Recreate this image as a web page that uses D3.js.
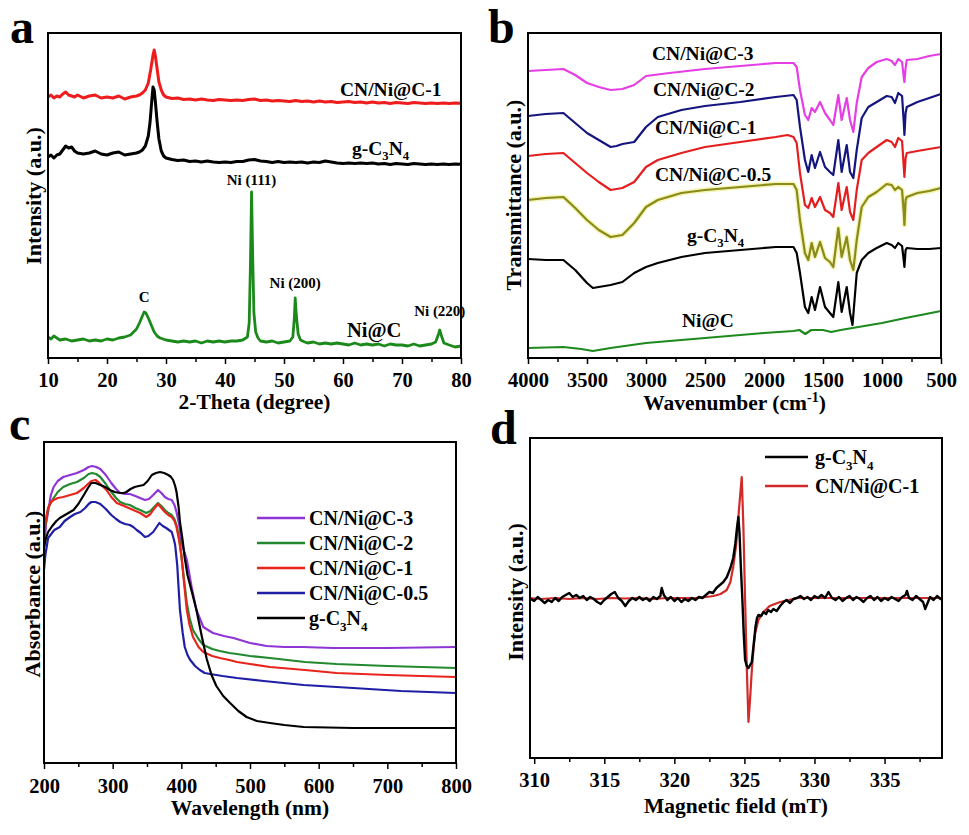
<!DOCTYPE html>
<html>
<head>
<meta charset="utf-8">
<script src="https://cdn.jsdelivr.net/npm/d3@7"></script>
<style>
    body { margin: 0; background: #fff; }
    svg text { font-family: "Liberation Serif", "Times New Roman", serif; font-weight: bold; fill: #000; }
</style>
</head>
<body>
<svg id="fig" width="969" height="835"></svg>
<script>
// ---------- panel a : XRD (2-theta, intensity a.u.) ----------
var xrdCN1 = [[10,261],[10.5,263],[11,260],[11.5,262],[12,261],[12.5,264],[13,266],[13.5,263],[14,262],[14.5,261],[15,263],[16,260],[17,262],[18,263],[19,260],[20,261],[21,260],[22,262],[23,259],[24,261],[25,262],[25.5,263],[26,265],[26.5,268],[27,275],[27.4,288],[27.8,303],[28,308],[28.2,302],[28.5,289],[28.8,276],[29.2,268],[29.6,263],[30,261],[31,259.5],[32,260],[33,258.5],[34,259],[35,258],[36,259],[37,258],[38,257.5],[39,258.5],[40,258],[41,257.5],[42,258],[43,257.5],[44,258.5],[45,259],[46,257.5],[47,258],[48,257],[49,257.5],[50,257],[51,256.5],[52,257.5],[53,256.5],[54,257],[55,256],[56,257],[57,256],[58,256.5],[59,255.5],[60,256],[61,256.5],[62,255.5],[63,256],[64,255],[65,256],[66,255],[67,255.5],[68,254.5],[69,255.5],[70,255],[71,254.5],[72,255.5],[73,255],[74,254.5],[75,255],[76,254.5],[77,255],[78,254.5],[79,255],[80,254.7]];
var xrdGCN = [[10,201],[10.5,203],[11,200],[11.5,203],[12,204],[12.5,208],[13,212],[13.5,210],[14,211],[14.5,207],[15,205],[16,204],[17,205],[18,207],[19,204],[20,203],[21,205],[22,206],[23,203],[24,204],[25,205],[25.5,206],[26,208],[26.5,212],[27,222],[27.3,236],[27.6,258],[27.8,271],[28,268],[28.2,256],[28.5,236],[28.8,219],[29.2,207],[29.6,202],[30,200],[31,198.5],[32,197.5],[33,198],[34,196.5],[35,197],[36,196],[37,197],[38,196],[39,195.5],[40,196],[41,195.5],[42,196.5],[43,196.5],[44,198],[45,198.5],[46,197],[47,196.5],[48,195.5],[49,196.5],[50,195.5],[51,196],[52,195.5],[53,196],[54,195],[55,196],[56,195.5],[57,197],[58,196],[59,195],[60,194.5],[61,195],[62,194.5],[63,195],[64,194.5],[65,195],[66,194],[67,194.5],[68,193.5],[69,194.5],[70,194],[71,193.5],[72,194.5],[73,194],[74,193.5],[75,194],[76,193.5],[77,194],[78,193.5],[79,194],[80,193.7]];
var xrdNiC = [[10,21],[10.5,19],[11,22],[11.5,20],[12,18],[13,19],[14,17],[15,18],[16,19],[17,17],[18,18],[19,17],[20,19],[21,18],[22,20],[23,21],[24,23],[24.5,26],[25,29],[25.5,35],[26,42],[26.3,46],[26.6,45],[27,40],[27.5,33],[28,26],[28.5,22],[29,20],[30,18],[31,17],[32,16],[33,17],[34,16],[35,17],[36,15],[37,17],[38,16],[39,17],[40,16],[41,17],[42,17],[43,18],[43.8,21],[44.1,35],[44.3,90],[44.5,166],[44.7,100],[44.9,45],[45.2,26],[45.6,20],[46,17],[47,16],[48,17],[49,15],[50,16],[51,17],[51.5,21],[51.75,40],[51.9,60],[52.1,42],[52.4,24],[52.8,18],[53.5,16],[54,15],[55,16],[56,14],[57,15],[58,14],[59,15],[60,14],[61,13],[62,15],[63,13],[64,14],[65,13],[66,14],[67,12],[68,14],[69,13],[70,13],[71,12],[72,14],[73,12],[74,13],[75,14],[75.7,16],[76.2,24],[76.4,28],[76.7,22],[77.1,15],[78,13],[79,11],[80,12]];
var ticksA = [10, 20, 30, 40, 50, 60, 70, 80];
var minorA = [15, 25, 35, 45, 55, 65, 75];

// ---------- panel b : FTIR (wavenumber, transmittance a.u.) ----------
var irCN3 = [[4000,287],[3850,288],[3700,289],[3600,283],[3500,275],[3400,271],[3300,268],[3200,269],[3100,273],[3000,282],[2800,285],[2500,289],[2200,292],[1900,295],[1750,295],[1723,291],[1695,268],[1653,243],[1625,238],[1596,250],[1568,246],[1525,256],[1483,245],[1441,238],[1413,233],[1370,263],[1342,238],[1299,260],[1271,238],[1243,226],[1214,255],[1172,281],[1116,290],[1045,296],[960,299],[918,297],[890,293],[862,299],[830,296],[815,280],[810,276],[800,290],[790,298],[700,299],[600,302],[500,304]];
var irCN2 = [[4000,242],[3850,244],[3700,245],[3600,235],[3500,225],[3400,218],[3300,211],[3250,212],[3200,214],[3100,216],[3000,231],[2900,241],[2700,248],[2500,252],[2200,256],[1900,261],[1750,263],[1723,258],[1695,231],[1653,198],[1625,186],[1596,203],[1568,190],[1525,206],[1483,191],[1441,186],[1413,183],[1370,218],[1342,186],[1299,213],[1271,186],[1243,180],[1214,208],[1172,240],[1116,251],[1045,256],[960,262],[918,261],[890,255],[862,265],[830,262],[815,235],[810,223],[800,245],[790,251],[700,256],[600,260],[500,264]];
var irCN1 = [[4000,202],[3850,204],[3700,205],[3600,195],[3500,185],[3400,176],[3300,168],[3200,170],[3100,176],[3000,191],[2900,198],[2700,205],[2500,211],[2200,216],[1900,221],[1800,223],[1750,221],[1723,215],[1695,185],[1653,153],[1625,150],[1596,160],[1568,151],[1525,161],[1483,148],[1441,145],[1413,141],[1370,175],[1342,148],[1299,171],[1271,146],[1243,138],[1214,168],[1172,198],[1116,205],[1045,211],[960,218],[918,216],[890,211],[862,220],[830,217],[815,190],[810,181],[800,200],[790,205],[700,207],[600,209],[500,211]];
var irCN05 = [[4000,158],[3850,160],[3700,161],[3600,150],[3500,138],[3400,128],[3300,121],[3200,123],[3100,135],[3000,151],[2900,158],[2700,165],[2500,168],[2200,171],[1900,174],[1750,174],[1723,168],[1695,138],[1653,105],[1625,98],[1596,115],[1568,101],[1525,116],[1483,100],[1441,96],[1413,91],[1370,130],[1342,101],[1299,121],[1271,98],[1243,88],[1214,118],[1172,151],[1116,161],[1045,166],[960,174],[918,173],[890,168],[862,171],[830,168],[815,145],[810,133],[800,158],[790,161],[700,165],[600,167],[500,170]];
var irGCN = [[4000,99],[3850,98],[3700,98],[3600,88],[3500,75],[3450,70],[3400,71],[3300,73],[3200,76],[3100,85],[3000,91],[2900,95],[2700,101],[2500,105],[2200,108],[1900,111],[1750,111],[1723,105],[1695,85],[1653,51],[1625,45],[1596,61],[1568,48],[1525,71],[1483,51],[1441,45],[1413,41],[1370,76],[1342,46],[1299,71],[1271,45],[1250,33],[1214,85],[1172,98],[1116,105],[1045,110],[960,115],[918,113],[890,110],[862,115],[830,112],[815,97],[810,91],[800,108],[790,110],[700,109],[600,109],[500,110]];
var irNiC = [[4000,10],[3700,11],[3550,9],[3450,7],[3300,10],[3000,15],[2500,20],[2000,25],[1750,27],[1700,28],[1650,24],[1600,28],[1500,28],[1430,26],[1350,28],[1200,31],[1000,35],[800,40],[500,47]];
var ticksB = [4000, 3500, 3000, 2500, 2000, 1500, 1000, 500];
var minorB = [3750, 3250, 2750, 2250, 1750, 1250, 750];

// ---------- panel c : UV-vis (wavelength, absorbance a.u.) ----------
var uvCN3 = [[200,211],[203,240],[206,251],[210,268],[214,276],[220,282],[228,286],[238,288],[248,290],[258,293],[265,296],[270,297],[276,296],[282,294],[290,288],[298,280],[305,274],[311,270],[318,269],[325,269],[333,267],[340,265],[347,263],[353,264],[359,268],[366,273],[371,270],[376,266],[381,264],[386,263],[390,258],[393,251],[397,238],[400,221],[408,203],[415,176],[422,153],[432,136],[446,130],[462,127],[476,125],[500,120],[524,117],[550,116],[577,116],[621,115],[700,115],[800,116]];
var uvCN2 = [[200,232],[203,241],[206,255],[214,265],[220,271],[228,276],[238,279],[248,281],[258,285],[265,289],[270,290],[276,289],[282,286],[290,279],[298,271],[305,265],[311,261],[318,259],[325,258],[333,255],[340,253],[349,250],[355,252],[359,255],[366,260],[371,257],[376,253],[381,250],[386,248],[390,244],[393,238],[397,224],[400,208],[404,183],[408,160],[412,145],[417,133],[425,124],[432,118],[445,114],[456,112],[470,110],[481,109],[500,107],[529,105],[580,101],[626,99],[700,97],[800,95]];
var uvCN1 = [[200,226],[203,245],[206,255],[210,261],[214,263],[220,265],[228,266],[238,268],[248,270],[258,275],[264,279],[269,282],[275,283],[279,281],[285,277],[291,273],[298,266],[306,260],[313,258],[320,256],[330,253],[340,250],[349,246],[355,249],[359,253],[366,259],[371,255],[376,251],[381,248],[386,246],[390,242],[393,236],[397,222],[400,208],[404,180],[408,153],[412,138],[417,126],[425,116],[432,111],[445,107],[456,105],[470,103],[481,101],[500,99],[529,96],[580,93],[626,90],[700,88],[800,86]];
var uvCN05 = [[200,193],[202,208],[206,225],[215,233],[223,236],[230,242],[238,246],[245,249],[253,251],[260,255],[265,259],[269,261],[275,261],[282,259],[290,254],[298,248],[305,244],[311,241],[318,239],[325,238],[330,236],[335,233],[341,230],[347,226],[352,227],[359,231],[364,236],[368,240],[373,237],[378,235],[382,233],[386,231],[389,224],[391,218],[394,198],[398,153],[402,130],[405,116],[409,108],[413,103],[420,97],[427,93],[434,90],[442,89],[460,87],[481,85],[520,82],[578,78],[650,75],[720,72],[800,70]];
var uvGCN = [[200,216],[203,225],[206,231],[212,237],[218,242],[223,245],[233,249],[243,253],[250,259],[258,268],[264,275],[269,280],[275,280],[282,278],[289,276],[296,273],[303,271],[311,270],[316,270],[320,271],[326,274],[332,276],[338,277],[345,278],[351,282],[357,288],[363,290],[369,291],[375,290],[381,288],[385,286],[388,283],[391,277],[393,271],[396,256],[398,241],[402,222],[405,205],[409,188],[415,172],[422,153],[430,126],[437,104],[444,88],[451,77],[461,67],[471,60],[483,52],[495,46],[510,42],[529,40],[550,38],[578,36],[650,35],[800,35]];
var ticksC = [200, 300, 400, 500, 600, 700, 800];
var minorC = [250, 350, 450, 550, 650, 750];
var namesC = ['CN/Ni@C-3', 'CN/Ni@C-2', 'CN/Ni@C-1', 'CN/Ni@C-0.5', 'g-C3N4'];

// ---------- panel d : EPR (magnetic field mT, intensity a.u.) ----------
var eprCN1 = [[309.7,160],[310.5,159],[311.5,160],[312.5,159],[313.5,160],[314.5,159],[315.5,160],[316.5,159.5],[317.5,160],[318.5,159],[319.5,160],[320.5,160],[321.5,160],[322.3,161],[322.8,162],[323.3,164],[323.74,168],[324,176],[324.2,191],[324.4,212],[324.5,228],[324.65,255],[324.81,281],[324.93,230],[325.05,158],[325.17,90],[325.29,36],[325.41,60],[325.53,88],[325.65,110],[325.77,125],[326,138],[326.36,146],[326.8,152],[327.55,156],[328.2,158],[328.74,160],[330,160],[332,160],[334,160],[336,160],[338,160],[339.1,160]];
var eprGCN = [[309.75,159],[310,157],[310.25,161],[310.5,158],[310.75,155],[311,158],[311.25,156],[311.5,160],[311.75,157],[312,161],[312.25,163],[312.5,165],[312.75,161],[313,163],[313.25,160],[313.5,162],[313.75,158],[314,161],[314.25,159],[314.5,156],[314.75,154],[315,158],[315.25,161],[315.5,164],[315.75,166],[316,160],[316.25,157],[316.5,152],[316.75,157],[317,160],[317.25,158],[317.5,161],[317.75,158],[318,160],[318.25,157],[318.5,161],[318.75,159],[319,162],[319.1,170],[319.25,163],[319.5,158],[319.75,161],[320,157],[320.25,160],[320.5,156],[320.75,159],[321,157],[321.25,160],[321.5,158],[321.75,161],[322,160],[322.25,163],[322.5,166],[322.75,165],[323,170],[323.25,173],[323.5,176],[323.75,181],[324,190],[324.2,200],[324.35,214],[324.47,230],[324.57,241],[324.65,225],[324.75,190],[324.85,160],[324.95,125],[325.05,98],[325.17,92],[325.29,90],[325.41,93],[325.53,96],[325.65,112],[325.8,132],[325.9,140],[326,143],[326.2,142],[326.36,146],[326.55,144],[326.7,148],[326.9,146],[327.07,149],[327.3,147],[327.55,152],[327.8,156],[328,158],[328.25,155],[328.5,159],[328.75,160],[329,162],[329.25,159],[329.5,161],[329.75,158],[330,162],[330.25,160],[330.5,163],[330.75,160],[331,166],[331.25,160],[331.5,158],[331.75,161],[332,157],[332.25,160],[332.5,162],[332.75,158],[333,161],[333.25,159],[333.5,156],[333.75,160],[334,162],[334.25,158],[334.5,161],[334.75,157],[335,160],[335.25,158],[335.5,161],[335.75,159],[336,157],[336.25,161],[336.5,163],[336.6,167],[336.75,160],[337,158],[337.25,162],[337.5,159],[337.75,156],[337.9,149],[338.1,156],[338.25,161],[338.5,158],[338.75,162],[339,159],[339.1,160]];
var ticksD = [310, 315, 320, 325, 330, 335];
var minorD = [312.5, 317.5, 322.5, 327.5, 332.5, 337.5];
var namesD = ['g-C3N4', 'CN/Ni@C-1'];

var svg = d3.select('#fig');

// writes a label, turning C3N4 into real subscripts
function label(sel, str, size) {
    if (str.indexOf('C3N4') < 0) { sel.text(str); return sel; }
    str.replace('C3N4', 'C|3|N|4').split('|').forEach(function (p, i) {
        var isSub = (p === '3' || p === '4');
        var t = sel.append('tspan').text(p);
        if (isSub) t.attr('font-size', size * 0.65).attr('dy', size * 0.28);
        else if (i > 0) t.attr('dy', -size * 0.28);
    });
    return sel;
}

function panel(opt) {
    var g = svg.append('g');
    var x = d3.scaleLinear().domain(opt.xDomain).range([opt.left, opt.right]);
    var y = d3.scaleLinear().domain(opt.yDomain).range([opt.bottom, opt.top]);
    var line = d3.line()
        .x(function (d) { return x(d[0]); })
        .y(function (d) { return y(d[1]); });

    opt.series.forEach(function (s) {
        if (s.halo) {
            g.append('path').datum(s.data)
                .attr('fill', 'none').attr('stroke', s.halo).attr('stroke-width', 5)
                .attr('stroke-linejoin', 'round').attr('d', line);
        }
        g.append('path').datum(s.data)
            .attr('fill', 'none')
            .attr('stroke', s.color)
            .attr('stroke-width', s.width || 2.2)
            .attr('stroke-linejoin', 'round')
            .attr('d', line);
    });

    // frame
    g.append('rect')
        .attr('x', opt.left).attr('y', opt.top)
        .attr('width', opt.right - opt.left).attr('height', opt.bottom - opt.top)
        .attr('fill', 'none').attr('stroke', '#000').attr('stroke-width', 2);

    // minor ticks
    var mi = g.append('g').attr('transform', 'translate(0,' + opt.bottom + ')')
        .call(d3.axisBottom(x).tickValues(opt.minor).tickSize(4).tickFormat(''));
    mi.select('.domain').remove();
    mi.selectAll('line').attr('stroke-width', 1.5);

    // major ticks + labels
    var ax = g.append('g').attr('transform', 'translate(0,' + opt.bottom + ')')
        .call(d3.axisBottom(x).tickValues(opt.ticks).tickSize(6).tickPadding(opt.pad).tickFormat(d3.format('d')));
    ax.select('.domain').remove();
    ax.selectAll('line').attr('stroke-width', 1.5);
    ax.selectAll('text').attr('font-size', 20.5);

    // axis titles
    var xt = g.append('text')
        .attr('x', (opt.left + opt.right) / 2).attr('y', opt.xTitleY)
        .attr('text-anchor', 'middle').attr('font-size', 21.5);
    xt.text(opt.xTitle);
    if (opt.xTitleSup) {
        xt.append('tspan').attr('font-size', 14).attr('dy', -8).text(opt.xTitleSup);
        xt.append('tspan').attr('dy', 8).text(')');
    }
    g.append('text')
        .attr('transform', 'translate(' + opt.yTitleX + ',' + opt.yTitleY + ') rotate(-90)')
        .attr('text-anchor', 'middle').attr('dy', '0.35em')
        .attr('font-size', 22).text(opt.yTitle);

    // panel letter
    g.append('text').attr('x', opt.letterX).attr('y', opt.letterY)
        .attr('font-size', 48).text(opt.letter);

    return { g: g, x: x, y: y };
}

// ---------- a ----------
var pa = panel({
    left: 48, right: 461, top: 33, bottom: 358,
    xDomain: [10, 80], yDomain: [0, 325],
    ticks: ticksA, minor: minorA, pad: 8,
    xTitle: '2-Theta (degree)', xTitleY: 409,
    yTitle: 'Intensity (a.u.)', yTitleX: 33, yTitleY: 196,
    letter: 'a', letterX: 10, letterY: 43,
    series: [
        { data: xrdNiC, color: '#1b8a1b', width: 2.8 },
        { data: xrdGCN, color: '#000000', width: 3 },
        { data: xrdCN1, color: '#ee1c1c', width: 3 }
    ]
});
label(pa.g.append('text').attr('x', 340).attr('y', 96).attr('font-size', 19.5), 'CN/Ni@C-1', 19.5);
label(pa.g.append('text').attr('x', 352).attr('y', 155).attr('font-size', 19.5), 'g-C3N4', 19.5);
pa.g.append('text').attr('x', 347).attr('y', 337).attr('font-size', 20.5).text('Ni@C');
[['C', 26.3, 302], ['Ni (111)', 44.5, 185], ['Ni (200)', 51.9, 288], ['Ni (220)', 76.4, 316]].forEach(function (p) {
    pa.g.append('text').attr('x', pa.x(p[1])).attr('y', p[2])
        .attr('text-anchor', 'middle').attr('font-size', 15).text(p[0]);
});

// ---------- b ----------
var pb = panel({
    left: 528, right: 941, top: 33, bottom: 358,
    xDomain: [4000, 500], yDomain: [0, 325],
    ticks: ticksB, minor: minorB, pad: 8,
    xTitle: 'Wavenumber (cm', xTitleSup: '-1', xTitleY: 410,
    yTitle: 'Transmittance (a.u.)', yTitleX: 513, yTitleY: 195,
    letter: 'b', letterX: 488, letterY: 43,
    series: [
        { data: irNiC, color: '#1e8a1e' },
        { data: irGCN, color: '#000000' },
        { data: irCN05, color: '#8a8a1a', halo: 'rgba(240,240,150,0.7)' },
        { data: irCN1, color: '#e41e1e' },
        { data: irCN2, color: '#151580' },
        { data: irCN3, color: '#e53ee5' }
    ]
});
[['CN/Ni@C-3', 652, 60], ['CN/Ni@C-2', 653, 96], ['CN/Ni@C-1', 655, 134], ['CN/Ni@C-0.5', 655, 181], ['g-C3N4', 687, 242], ['Ni@C', 682, 327]].forEach(function (p) {
    label(pb.g.append('text').attr('x', p[1]).attr('y', p[2]).attr('font-size', 19.5), p[0], 19.5);
});

// ---------- c ----------
var colorsC = ['#8f35d6', '#23892e', '#e8241c', '#1f1fa6', '#000000'];
var pc = panel({
    left: 44, right: 456, top: 442, bottom: 763,
    xDomain: [200, 800], yDomain: [0, 321],
    ticks: ticksC, minor: minorC, pad: 9,
    xTitle: 'Wavelength (nm)', xTitleY: 815,
    yTitle: 'Absorbance (a.u.)', yTitleX: 32, yTitleY: 594,
    letter: 'c', letterX: 9, letterY: 440,
    series: [
        { data: uvCN3, color: colorsC[0] },
        { data: uvCN2, color: colorsC[1] },
        { data: uvCN1, color: colorsC[2] },
        { data: uvCN05, color: colorsC[3] },
        { data: uvGCN, color: colorsC[4] }
    ]
});
namesC.forEach(function (n, i) {
    var yy = 518 + i * 25;
    pc.g.append('line').attr('x1', 257).attr('x2', 305).attr('y1', yy).attr('y2', yy)
        .attr('stroke', colorsC[i]).attr('stroke-width', 2.5);
    label(pc.g.append('text').attr('x', 309).attr('y', yy + 7).attr('font-size', 20), n, 20);
});

// ---------- d ----------
var colorsD = ['#000000', '#d12a2a'];
var pd = panel({
    left: 530, right: 942, top: 438, bottom: 758,
    xDomain: [309.7, 339.1], yDomain: [0, 320],
    ticks: ticksD, minor: minorD, pad: 8,
    xTitle: 'Magnetic field (mT)', xTitleY: 813,
    yTitle: 'Intensity (a.u.)', yTitleX: 515, yTitleY: 592,
    letter: 'd', letterX: 490, letterY: 444,
    series: [
        { data: eprCN1, color: colorsD[1], width: 2.2 },
        { data: eprGCN, color: colorsD[0], width: 2.4 }
    ]
});
namesD.forEach(function (n, i) {
    var yy = 457 + i * 29;
    pd.g.append('line').attr('x1', 765).attr('x2', 808).attr('y1', yy).attr('y2', yy)
        .attr('stroke', colorsD[i]).attr('stroke-width', 2.5);
    label(pd.g.append('text').attr('x', 815).attr('y', yy + 7).attr('font-size', 20), n, 20);
});
</script>
</body>
</html>
